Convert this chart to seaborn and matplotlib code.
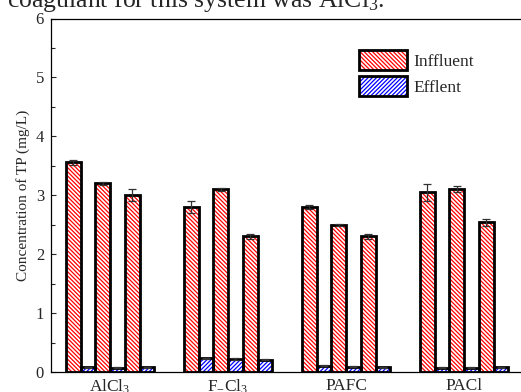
import numpy as np
import pandas as pd
import seaborn as sns
import matplotlib.pyplot as plt
from matplotlib.patches import Rectangle, Patch
from matplotlib.legend_handler import HandlerTuple

# --- data ---
coagulants = ['AlCl$_3$', 'F$_\\mathregular{-}$Cl$_3$', 'PAFC', 'PACl']
influent = [[3.56, 3.20, 3.00], [2.80, 3.10, 2.30], [2.80, 2.50, 2.30], [3.05, 3.10, 2.54]]
influent_err = [[0.04, 0.02, 0.10], [0.10, 0.02, 0.04], [0.04, 0.02, 0.05], [0.14, 0.05, 0.06]]
effluent = [[0.08, 0.07, 0.08], [0.23, 0.22, 0.21], [0.11, 0.09, 0.08], [0.07, 0.07, 0.08]]
effluent_err = [[0.01, 0.01, 0.01], [0.01, 0.01, 0.01], [0.01, 0.01, 0.01], [0.01, 0.01, 0.01]]

sns.set_style('ticks')
plt.rcParams['font.family'] = ['Liberation Serif', 'DejaVu Serif']
plt.rcParams['mathtext.fontset'] = 'custom'
plt.rcParams['mathtext.rm'] = 'Liberation Serif'
plt.rcParams['mathtext.it'] = 'Liberation Serif:italic'
plt.rcParams['hatch.linewidth'] = 0.9

rows = []
for g, name in enumerate(coagulants):
    for k in range(3):
        rows.append({'coagulant': name, 'bar': f'I{k}', 'value': influent[g][k], 'err': influent_err[g][k]})
        rows.append({'coagulant': name, 'bar': f'E{k}', 'value': effluent[g][k], 'err': effluent_err[g][k]})
df = pd.DataFrame(rows)
hue_order = ['I0', 'E0', 'I1', 'E1', 'I2', 'E2']

fig = plt.figure(figsize=(5.21, 3.92), dpi=100)
ax = fig.add_axes([51 / 521, 20 / 392, 472 / 521, 353.5 / 392])

sns.barplot(data=df, x='coagulant', y='value', hue='bar', order=coagulants, hue_order=hue_order,
            width=0.75, errorbar=None, palette=['white'] * 6, legend=False, ax=ax)

hatch_in = '\\' * 8
hatch_ef = '/' * 8
for level, container in zip(hue_order, ax.containers):
    is_in = level.startswith('I')
    sub = df[df['bar'] == level].set_index('coagulant').loc[coagulants]
    for patch, err in zip(container, sub['err']):
        patch.set_facecolor('white')
        patch.set_edgecolor('red' if is_in else 'blue')
        patch.set_hatch(hatch_in if is_in else hatch_ef)
        patch.set_linewidth(0)
        ax.add_patch(Rectangle((patch.get_x(), 0), patch.get_width(), patch.get_height(),
                               fill=False, edgecolor='black', linewidth=2.0, zorder=3))
        ax.errorbar(patch.get_x() + patch.get_width() / 2, patch.get_height(), yerr=err,
                    color='#333333', elinewidth=0.9, capsize=3, capthick=0.9, zorder=4)

ax.set_xlim(-0.5, 3.5)
ax.set_ylim(0, 6)
ax.set_yticks(range(7))
ax.set_yticks(np.arange(0.5, 6, 1), minor=True)
ax.tick_params(axis='y', which='major', direction='in', length=3.5, width=0.8, labelsize=12, pad=5)
ax.tick_params(axis='y', which='minor', direction='in', length=3, width=0.8)
ax.tick_params(axis='x', length=0, labelsize=12.5, pad=4)
ax.set_xlabel('')
ax.set_ylabel('Concentration of TP (mg/L)', fontsize=11)
for s in ax.spines.values():
    s.set_linewidth(0.9)
    s.set_color('black')

handles = [
    (Patch(facecolor='white', edgecolor='red', hatch=hatch_in, linewidth=0),
     Patch(fill=False, edgecolor='black', linewidth=2.0)),
    (Patch(facecolor='white', edgecolor='blue', hatch=hatch_ef, linewidth=0),
     Patch(fill=False, edgecolor='black', linewidth=2.0)),
]
ax.legend(handles, ['Inffluent', 'Efflent'], handler_map={tuple: HandlerTuple(ndivide=1, pad=0)},
          loc='upper left', bbox_to_anchor=(359 / 521, 1 - 50 / 392), bbox_transform=fig.transFigure,
          frameon=False, fontsize=12.5, handlelength=2.76, handleheight=1.38, labelspacing=0.35,
          handletextpad=0.36, borderpad=0, borderaxespad=0)

fig.text(7 / 521, 1 - 7.5 / 392, 'coagulant for this system was AlCl$_3$.', fontsize=18.5, va='baseline', ha='left')

fig.savefig('out.png', dpi=100)
